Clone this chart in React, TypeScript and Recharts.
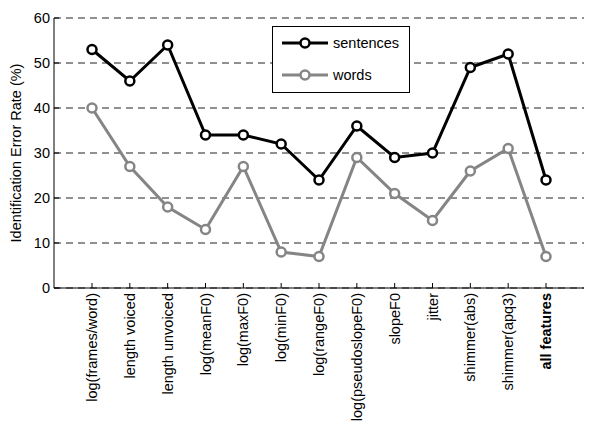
import { LineChart, Line, XAxis, YAxis, CartesianGrid, Legend } from "recharts";

// feature sets along the x axis
const features = [
  "log(frames/word)",
  "length voiced",
  "length unvoiced",
  "log(meanF0)",
  "log(maxF0)",
  "log(minF0)",
  "log(rangeF0)",
  "log(pseudoslopeF0)",
  "slopeF0",
  "jitter",
  "shimmer(abs)",
  "shimmer(apq3)",
  "all features",
];

const sentences = [53, 46, 54, 34, 34, 32, 24, 36, 29, 30, 49, 52, 24];
const words = [40, 27, 18, 13, 27, 8, 7, 29, 21, 15, 26, 31, 7];

const yTicks = [0, 10, 20, 30, 40, 50, 60];

const data = features.map((f, i) => ({ name: f, sentences: sentences[i], words: words[i] }));

const FONT = "Liberation Sans, Arial, sans-serif";
const GRAY = "#858585";
const TICK = 5;

function BottomTick(props: any) {
  const { x, y, payload } = props;
  const bold = payload.value === "all features";
  return (
    <g>
      <line x1={x} x2={x} y1={y} y2={y - TICK} stroke="#000" />
      <text
        x={x}
        y={y + 5}
        transform={`rotate(-90, ${x}, ${y + 5})`}
        textAnchor="end"
        dy="0.35em"
        fontSize={14.5}
        fontFamily={FONT}
        fontWeight={bold ? "bold" : "normal"}
        fill="#000"
      >
        {payload.value}
      </text>
    </g>
  );
}

function TopTick(props: any) {
  const { x, y } = props;
  return <line x1={x} x2={x} y1={y} y2={y + TICK} stroke="#000" />;
}

function LeftTick(props: any) {
  const { x, y, payload } = props;
  return (
    <g>
      <line x1={x} x2={x + TICK} y1={y} y2={y} stroke="#000" />
      <text x={x - 4} y={y} dy="0.35em" textAnchor="end" fontSize={14.5} fontFamily={FONT} fill="#000">
        {payload.value}
      </text>
    </g>
  );
}

function RightTick(props: any) {
  const { x, y } = props;
  return <line x1={x} x2={x - TICK} y1={y} y2={y} stroke="#000" />;
}

function LegendBox() {
  const rows = [
    { label: "sentences", color: "#000", y: 17 },
    { label: "words", color: GRAY, y: 49 },
  ];
  return (
    <div style={{ position: "relative", width: 138, height: 67, border: "1px solid #000", background: "#fff", boxSizing: "border-box" }}>
      <svg width={60} height={67} style={{ position: "absolute", left: 0, top: 0 }}>
        {rows.map((r) => (
          <g key={r.label}>
            <line x1={9} x2={55} y1={r.y - 1} y2={r.y - 1} stroke={r.color} strokeWidth={3} />
            <circle cx={32} cy={r.y - 1} r={4.5} stroke={r.color} strokeWidth={2.5} fill="#fff" />
          </g>
        ))}
      </svg>
      {rows.map((r) => (
        <span
          key={r.label}
          style={{ position: "absolute", left: 60, top: r.y - 10, fontSize: 14.5, fontFamily: FONT, lineHeight: "18px", color: "#000" }}
        >
          {r.label}
        </span>
      ))}
    </div>
  );
}

export default function App() {
  return (
    <div style={{ width: 598, height: 424, background: "#fff" }}>
      <style>{"body{margin:0}"}</style>
      <LineChart width={598} height={424} data={data} margin={{ top: 18, right: 14, bottom: 0, left: 14 }}>
        <CartesianGrid vertical={false} stroke="#222" strokeDasharray="7 5" yAxisId="left" />
        <XAxis
          dataKey="name"
          xAxisId="bottom"
          orientation="bottom"
          height={136}
          padding={{ left: 38, right: 38 }}
          interval={0}
          tickLine={false}
          tickSize={0}
          tickMargin={0}
          axisLine={{ stroke: "#000" }}
          tick={<BottomTick />}
        />
        <XAxis
          dataKey="name"
          xAxisId="top"
          orientation="top"
          height={0}
          padding={{ left: 38, right: 38 }}
          interval={0}
          tickLine={false}
          tickSize={0}
          tickMargin={0}
          axisLine={{ stroke: "#000" }}
          tick={<TopTick />}
        />
        <YAxis
          yAxisId="left"
          domain={[0, 60]}
          ticks={yTicks}
          width={40}
          tickLine={false}
          tickSize={0}
          tickMargin={0}
          axisLine={{ stroke: "#000" }}
          tick={<LeftTick />}
          label={{
            value: "Identification Error Rate (%)",
            angle: -90,
            position: "insideLeft",
            dx: -3,
            dy: 0,
            style: { textAnchor: "middle", fontSize: 14.5, fontFamily: FONT, fill: "#000" },
          }}
        />
        <YAxis
          yAxisId="right"
          orientation="right"
          domain={[0, 60]}
          ticks={yTicks}
          width={0}
          tickLine={false}
          tickSize={0}
          tickMargin={0}
          axisLine={{ stroke: "#000" }}
          tick={<RightTick />}
        />
        <Legend
          layout="horizontal"
          verticalAlign="middle"
          align="center"
          content={() => <LegendBox />}
          wrapperStyle={{ position: "absolute", left: 272, top: 26, width: 138, height: 67 }}
        />
        <Line
          xAxisId="bottom"
          yAxisId="left"
          dataKey="words"
          stroke={GRAY}
          strokeWidth={3}
          dot={{ r: 4.5, stroke: GRAY, strokeWidth: 2.5, fill: "#fff" }}
          isAnimationActive={false}
        />
        <Line
          xAxisId="bottom"
          yAxisId="left"
          dataKey="sentences"
          stroke="#000"
          strokeWidth={3}
          dot={{ r: 4.5, stroke: "#000", strokeWidth: 2.5, fill: "#fff" }}
          isAnimationActive={false}
        />
      </LineChart>
    </div>
  );
}
